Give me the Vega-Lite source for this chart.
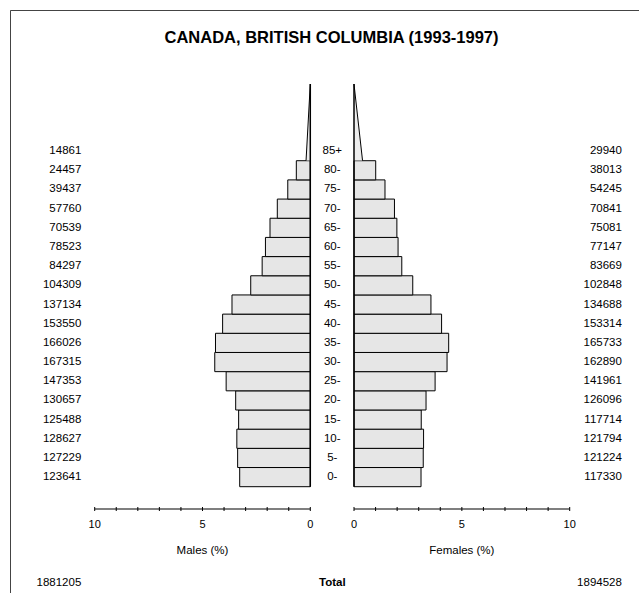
{
  "$schema": "https://vega.github.io/schema/vega-lite/v6.json",
  "width": 629,
  "height": 583,
  "autosize": {"type": "none"},
  "padding": {"left": 10, "top": 10, "right": 0, "bottom": 0},
  "background": "white",
  "config": {
    "view": {"stroke": "#444444", "strokeWidth": 1, "strokeDash": [629, 1212, 583]},
    "font": "Liberation Sans",
    "text": {"font": "Liberation Sans", "fontSize": 11.5, "color": "black"}
  },
  "title": {
    "text": "CANADA, BRITISH COLUMBIA (1993-1997)",
    "font": "Liberation Sans",
    "fontSize": 16.5,
    "fontWeight": "bold",
    "color": "black",
    "anchor": "middle",
    "offset": -36,
    "dx": 7
  },
  "datasets": {
    "groups": [
      {"age": 0, "age_end": 5, "label": "0-", "male": 123641, "female": 117330, "male_pct": 3.2746, "female_pct": 3.1075},
      {"age": 5, "age_end": 10, "label": "5-", "male": 127229, "female": 121224, "male_pct": 3.3697, "female_pct": 3.2106},
      {"age": 10, "age_end": 15, "label": "10-", "male": 128627, "female": 121794, "male_pct": 3.4067, "female_pct": 3.2257},
      {"age": 15, "age_end": 20, "label": "15-", "male": 125488, "female": 117714, "male_pct": 3.3235, "female_pct": 3.1176},
      {"age": 20, "age_end": 25, "label": "20-", "male": 130657, "female": 126096, "male_pct": 3.4604, "female_pct": 3.3396},
      {"age": 25, "age_end": 30, "label": "25-", "male": 147353, "female": 141961, "male_pct": 3.9026, "female_pct": 3.7598},
      {"age": 30, "age_end": 35, "label": "30-", "male": 167315, "female": 162890, "male_pct": 4.4313, "female_pct": 4.3141},
      {"age": 35, "age_end": 40, "label": "35-", "male": 166026, "female": 165733, "male_pct": 4.3972, "female_pct": 4.3894},
      {"age": 40, "age_end": 45, "label": "40-", "male": 153550, "female": 153314, "male_pct": 4.0668, "female_pct": 4.0605},
      {"age": 45, "age_end": 50, "label": "45-", "male": 137134, "female": 134688, "male_pct": 3.6320, "female_pct": 3.5672},
      {"age": 50, "age_end": 55, "label": "50-", "male": 104309, "female": 102848, "male_pct": 2.7626, "female_pct": 2.7239},
      {"age": 55, "age_end": 60, "label": "55-", "male": 84297, "female": 83669, "male_pct": 2.2326, "female_pct": 2.2160},
      {"age": 60, "age_end": 65, "label": "60-", "male": 78523, "female": 77147, "male_pct": 2.0797, "female_pct": 2.0432},
      {"age": 65, "age_end": 70, "label": "65-", "male": 70539, "female": 75081, "male_pct": 1.8682, "female_pct": 1.9885},
      {"age": 70, "age_end": 75, "label": "70-", "male": 57760, "female": 70841, "male_pct": 1.5298, "female_pct": 1.8762},
      {"age": 75, "age_end": 80, "label": "75-", "male": 39437, "female": 54245, "male_pct": 1.0445, "female_pct": 1.4367},
      {"age": 80, "age_end": 85, "label": "80-", "male": 24457, "female": 38013, "male_pct": 0.6477, "female_pct": 1.0068},
      {"age": 85, "age_end": 90, "label": "85+", "male": 14861, "female": 29940, "male_pct": 0.3936, "female_pct": 0.7930}
    ],
    "open": [
      {"sex": "Males", "age": 85, "width": 0.197},
      {"sex": "Males", "age": 105, "width": 0},
      {"sex": "Females", "age": 85, "width": 0.397},
      {"sex": "Females", "age": 105, "width": 0}
    ],
    "totals": [
      {"sex": "Males", "total": 1881205, "axis_title": "Males (%)"},
      {"sex": "Females", "total": 1894528, "axis_title": "Females (%)"}
    ],
    "ticks": [
      {"v": 0}, {"v": 1}, {"v": 2}, {"v": 3}, {"v": 4}, {"v": 5},
      {"v": 6}, {"v": 7}, {"v": 8}, {"v": 9}, {"v": 10}
    ]
  },
  "layer": [
    {
      "layer": [
        {
          "data": {"name": "groups"},
          "transform": [{"filter": "datum.age < 85"}],
          "mark": {"type": "rect", "fill": "#e6e6e6", "stroke": "black", "strokeWidth": 1},
          "encoding": {
            "x": {"field": "male_pct", "type": "quantitative", "scale": {"domain": [-15.246, 13.928], "reverse": true, "nice": false, "zero": false}, "axis": null},
            "x2": {"datum": 0},
            "y": {"field": "age", "type": "quantitative", "scale": {"domain": [-27.72, 124.30], "nice": false, "zero": false}, "axis": null},
            "y2": {"field": "age_end"}
          }
        },
        {
          "data": {"name": "open"},
          "transform": [{"filter": "datum.sex === 'Males'"}],
          "mark": {"type": "area", "orient": "horizontal", "color": "#e6e6e6", "line": {"color": "black", "strokeWidth": 1}},
          "encoding": {
            "x": {"field": "width", "type": "quantitative", "axis": null},
            "x2": {"datum": 0},
            "y": {"field": "age", "type": "quantitative", "scale": {"domain": [-27.72, 124.30], "nice": false, "zero": false}, "axis": null}
          }
        },
        {
          "data": {"values": [{}]},
          "mark": {"type": "rule", "color": "black", "strokeWidth": 1.5},
          "encoding": {
            "x": {"datum": 0, "type": "quantitative", "axis": null},
            "y": {"datum": 0, "type": "quantitative", "scale": {"domain": [-27.72, 124.30], "nice": false, "zero": false}, "axis": null},
            "y2": {"datum": 105}
          }
        },
        {
          "data": {"values": [{}]},
          "mark": {"type": "rule", "color": "#555555", "strokeWidth": 1.5},
          "encoding": {
            "x": {"datum": 0, "type": "quantitative", "axis": null},
            "x2": {"datum": 10},
            "y": {"datum": -5.82, "type": "quantitative", "scale": {"domain": [-27.72, 124.30], "nice": false, "zero": false}, "axis": null}
          }
        },
        {
          "data": {"name": "ticks"},
          "mark": {"type": "tick", "orient": "vertical", "size": 4, "thickness": 1, "color": "black", "opacity": 1},
          "encoding": {
            "x": {"field": "v", "type": "quantitative", "axis": null},
            "y": {"datum": -5.82, "type": "quantitative", "scale": {"domain": [-27.72, 124.30], "nice": false, "zero": false}, "axis": null}
          }
        },
        {
          "data": {"name": "ticks"},
          "transform": [{"filter": "datum.v % 5 === 0"}],
          "mark": {"type": "text", "align": "center", "baseline": "middle", "fontSize": 11},
          "encoding": {
            "x": {"field": "v", "type": "quantitative", "axis": null},
            "y": {"datum": -9.99, "type": "quantitative", "scale": {"domain": [-27.72, 124.30], "nice": false, "zero": false}, "axis": null},
            "text": {"field": "v", "type": "quantitative", "format": "d"}
          }
        },
        {
          "data": {"name": "groups"},
          "mark": {"type": "text", "align": "center", "baseline": "middle", "dy": -9.6},
          "encoding": {
            "x": {"datum": -1.02, "type": "quantitative", "axis": null},
            "y": {"field": "age", "type": "quantitative", "scale": {"domain": [-27.72, 124.30], "nice": false, "zero": false}, "axis": null},
            "text": {"field": "label"}
          }
        },
        {
          "data": {"name": "groups"},
          "mark": {"type": "text", "align": "right", "baseline": "middle", "dy": -9.6},
          "encoding": {
            "x": {"datum": 10.62, "type": "quantitative", "axis": null},
            "y": {"field": "age", "type": "quantitative", "scale": {"domain": [-27.72, 124.30], "nice": false, "zero": false}, "axis": null},
            "text": {"field": "male", "type": "quantitative", "format": "d"}
          }
        },
        {
          "data": {"name": "totals"},
          "transform": [{"filter": "datum.sex === 'Males'"}],
          "mark": {"type": "text", "align": "center", "baseline": "middle"},
          "encoding": {
            "x": {"datum": 5, "type": "quantitative", "axis": null},
            "y": {"datum": -16.77, "type": "quantitative", "scale": {"domain": [-27.72, 124.30], "nice": false, "zero": false}, "axis": null},
            "text": {"field": "axis_title"}
          }
        },
        {
          "data": {"name": "totals"},
          "transform": [{"filter": "datum.sex === 'Males'"}],
          "mark": {"type": "text", "align": "right", "baseline": "middle"},
          "encoding": {
            "x": {"datum": 10.62, "type": "quantitative", "axis": null},
            "y": {"datum": -25.03, "type": "quantitative", "scale": {"domain": [-27.72, 124.30], "nice": false, "zero": false}, "axis": null},
            "text": {"field": "total", "type": "quantitative", "format": "d"}
          }
        },
        {
          "data": {"name": "totals"},
          "transform": [{"filter": "datum.sex === 'Males'"}],
          "mark": {"type": "text", "align": "center", "baseline": "middle", "fontWeight": "bold"},
          "encoding": {
            "x": {"datum": -1.02, "type": "quantitative", "axis": null},
            "y": {"datum": -25.03, "type": "quantitative", "scale": {"domain": [-27.72, 124.30], "nice": false, "zero": false}, "axis": null},
            "text": {"value": "Total"}
          }
        }
      ]
    },
    {
      "layer": [
        {
          "data": {"name": "groups"},
          "transform": [{"filter": "datum.age < 85"}],
          "mark": {"type": "rect", "fill": "#e6e6e6", "stroke": "black", "strokeWidth": 1},
          "encoding": {
            "x": {"field": "female_pct", "type": "quantitative", "scale": {"domain": [-15.948, 13.213], "nice": false, "zero": false}, "axis": null},
            "x2": {"datum": 0},
            "y": {"field": "age", "type": "quantitative", "scale": {"domain": [-27.72, 124.30], "nice": false, "zero": false}, "axis": null},
            "y2": {"field": "age_end"}
          }
        },
        {
          "data": {"name": "open"},
          "transform": [{"filter": "datum.sex === 'Females'"}],
          "mark": {"type": "area", "orient": "horizontal", "color": "#e6e6e6", "line": {"color": "black", "strokeWidth": 1}},
          "encoding": {
            "x": {"field": "width", "type": "quantitative", "axis": null},
            "x2": {"datum": 0},
            "y": {"field": "age", "type": "quantitative", "scale": {"domain": [-27.72, 124.30], "nice": false, "zero": false}, "axis": null}
          }
        },
        {
          "data": {"values": [{}]},
          "mark": {"type": "rule", "color": "black", "strokeWidth": 1.5},
          "encoding": {
            "x": {"datum": 0, "type": "quantitative", "axis": null},
            "y": {"datum": 0, "type": "quantitative", "scale": {"domain": [-27.72, 124.30], "nice": false, "zero": false}, "axis": null},
            "y2": {"datum": 105}
          }
        },
        {
          "data": {"values": [{}]},
          "mark": {"type": "rule", "color": "#555555", "strokeWidth": 1.5},
          "encoding": {
            "x": {"datum": 0, "type": "quantitative", "axis": null},
            "x2": {"datum": 10},
            "y": {"datum": -5.82, "type": "quantitative", "scale": {"domain": [-27.72, 124.30], "nice": false, "zero": false}, "axis": null}
          }
        },
        {
          "data": {"name": "ticks"},
          "mark": {"type": "tick", "orient": "vertical", "size": 4, "thickness": 1, "color": "black", "opacity": 1},
          "encoding": {
            "x": {"field": "v", "type": "quantitative", "axis": null},
            "y": {"datum": -5.82, "type": "quantitative", "scale": {"domain": [-27.72, 124.30], "nice": false, "zero": false}, "axis": null}
          }
        },
        {
          "data": {"name": "ticks"},
          "transform": [{"filter": "datum.v % 5 === 0"}],
          "mark": {"type": "text", "align": "center", "baseline": "middle", "fontSize": 11},
          "encoding": {
            "x": {"field": "v", "type": "quantitative", "axis": null},
            "y": {"datum": -9.99, "type": "quantitative", "scale": {"domain": [-27.72, 124.30], "nice": false, "zero": false}, "axis": null},
            "text": {"field": "v", "type": "quantitative", "format": "d"}
          }
        },
        {
          "data": {"name": "groups"},
          "mark": {"type": "text", "align": "right", "baseline": "middle", "dy": -9.6},
          "encoding": {
            "x": {"datum": 12.42, "type": "quantitative", "axis": null},
            "y": {"field": "age", "type": "quantitative", "scale": {"domain": [-27.72, 124.30], "nice": false, "zero": false}, "axis": null},
            "text": {"field": "female", "type": "quantitative", "format": "d"}
          }
        },
        {
          "data": {"name": "totals"},
          "transform": [{"filter": "datum.sex === 'Females'"}],
          "mark": {"type": "text", "align": "center", "baseline": "middle"},
          "encoding": {
            "x": {"datum": 5, "type": "quantitative", "axis": null},
            "y": {"datum": -16.77, "type": "quantitative", "scale": {"domain": [-27.72, 124.30], "nice": false, "zero": false}, "axis": null},
            "text": {"field": "axis_title"}
          }
        },
        {
          "data": {"name": "totals"},
          "transform": [{"filter": "datum.sex === 'Females'"}],
          "mark": {"type": "text", "align": "right", "baseline": "middle"},
          "encoding": {
            "x": {"datum": 12.42, "type": "quantitative", "axis": null},
            "y": {"datum": -25.03, "type": "quantitative", "scale": {"domain": [-27.72, 124.30], "nice": false, "zero": false}, "axis": null},
            "text": {"field": "total", "type": "quantitative", "format": "d"}
          }
        }
      ]
    }
  ],
  "resolve": {"scale": {"x": "independent"}}
}
